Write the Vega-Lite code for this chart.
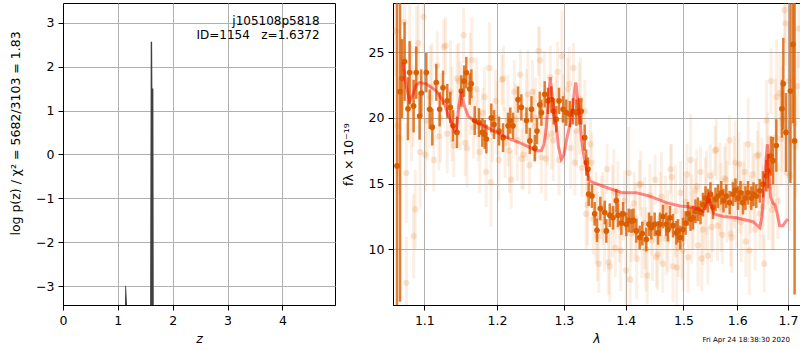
{
"$schema": "https://vega.github.io/schema/vega-lite/v6.json",
"padding": {"left": 8, "top": 2, "right": 0, "bottom": 0},
"spacing": 5,
"config": {
  "font": "DejaVu Sans",
  "view": {"stroke": "black", "strokeWidth": 1}
},
"datasets": {
  "pz": [
    {"z": 0, "logp": -20}, {"z": 1.128, "logp": -20}, {"z": 1.129, "logp": -3.5}, {"z": 1.135, "logp": -2.98}, {"z": 1.15, "logp": -3.0}, {"z": 1.175, "logp": -3.6}, {"z": 1.176, "logp": -20},
    {"z": 1.585, "logp": -20}, {"z": 1.588, "logp": -3.5}, {"z": 1.6, "logp": 2.57}, {"z": 1.625, "logp": 2.57}, {"z": 1.63, "logp": 1.5}, {"z": 1.648, "logp": 1.5}, {"z": 1.655, "logp": -3.5}, {"z": 1.656, "logp": -20}, {"z": 4.96, "logp": -20}
  ],
  "binned": [
    {"lam":1.0646,"flux":16.35,"err":13},{"lam":1.0685,"flux":22,"err":16},{"lam":1.0710,"flux":23.0,"err":3.0},{"lam":1.0743,"flux":24.3,"err":3.0},
    {"lam":1.0787,"flux":20.7,"err":2.4},{"lam":1.0808,"flux":23.45,"err":2.4},{"lam":1.0860,"flux":20.9,"err":2.0},{"lam":1.0894,"flux":23.45,"err":2.0},
    {"lam":1.0938,"flux":20.15,"err":1.8},{"lam":1.0960,"flux":21.9,"err":1.8},{"lam":1.1026,"flux":23.45,"err":1.5},{"lam":1.1071,"flux":20.66,"err":1.5},
    {"lam":1.1106,"flux":19.3,"err":1.4},{"lam":1.1159,"flux":22.7,"err":1.4},{"lam":1.1204,"flux":20.66,"err":1.3},{"lam":1.1249,"flux":22.3,"err":1.3},
    {"lam":1.1306,"flux":21.3,"err":1.3},{"lam":1.1347,"flux":20.8,"err":1.2},{"lam":1.1384,"flux":19.4,"err":1.2},{"lam":1.1439,"flux":18.9,"err":1.2},
    {"lam":1.1498,"flux":22.05,"err":1.2},{"lam":1.1536,"flux":22.8,"err":1.2},{"lam":1.1567,"flux":23.45,"err":1.2},{"lam":1.1614,"flux":22.2,"err":1.2},
    {"lam":1.1637,"flux":22.6,"err":1.1},{"lam":1.1684,"flux":19.8,"err":1.1},{"lam":1.1744,"flux":19.65,"err":1.1},{"lam":1.1791,"flux":18.9,"err":1.1},
    {"lam":1.1825,"flux":18.75,"err":1.1},{"lam":1.1848,"flux":18.4,"err":1.1},{"lam":1.1918,"flux":20.0,"err":1.1},{"lam":1.1957,"flux":19.5,"err":1.1},
    {"lam":1.2029,"flux":19.0,"err":1.1},{"lam":1.2087,"flux":18.5,"err":1.1},{"lam":1.2159,"flux":19.4,"err":1.0},{"lam":1.2193,"flux":19.8,"err":1.0},
    {"lam":1.2232,"flux":19.4,"err":1.0},{"lam":1.2306,"flux":21.4,"err":1.0},{"lam":1.2355,"flux":20.8,"err":1.0},{"lam":1.2431,"flux":19.8,"err":1.0},
    {"lam":1.2481,"flux":18.25,"err":1.0},{"lam":1.2505,"flux":20.66,"err":1.0},{"lam":1.2556,"flux":17.7,"err":1.0},{"lam":1.2589,"flux":19.0,"err":1.0},
    {"lam":1.2630,"flux":21.0,"err":1.0},{"lam":1.2655,"flux":20.4,"err":1.0},{"lam":1.2705,"flux":21.8,"err":1.0},{"lam":1.2755,"flux":21.3,"err":1.0},
    {"lam":1.2806,"flux":21.4,"err":1.0},{"lam":1.2843,"flux":20.5,"err":1.0},{"lam":1.2883,"flux":19.9,"err":1.0},{"lam":1.2925,"flux":21.3,"err":1.0},
    {"lam":1.2987,"flux":20.66,"err":1.0},{"lam":1.3038,"flux":20.4,"err":1.0},{"lam":1.3092,"flux":20.3,"err":1.0},{"lam":1.3143,"flux":20.5,"err":1.0},
    {"lam":1.3195,"flux":20.4,"err":1.0},{"lam":1.3238,"flux":20.5,"err":1.0},{"lam":1.3274,"flux":20.5,"err":1.0},{"lam":1.3328,"flux":18.5,"err":1.0},
    {"lam":1.3354,"flux":16.6,"err":1.0},{"lam":1.3381,"flux":16.1,"err":0.9},{"lam":1.3392,"flux":14.2,"err":0.9},{"lam":1.3445,"flux":14.05,"err":0.9},
    {"lam":1.3488,"flux":12.7,"err":0.9},{"lam":1.3526,"flux":11.45,"err":0.9},{"lam":1.3580,"flux":13.1,"err":0.9},{"lam":1.3652,"flux":12.8,"err":0.9},
    {"lam":1.3678,"flux":11.4,"err":0.9},{"lam":1.3734,"flux":12.6,"err":0.9},{"lam":1.3788,"flux":12.4,"err":0.9},{"lam":1.3843,"flux":13.7,"err":0.9},
    {"lam":1.3870,"flux":12.6,"err":0.9},{"lam":1.3926,"flux":12.0,"err":0.9},{"lam":1.3954,"flux":12.7,"err":0.9},{"lam":1.4009,"flux":11.9,"err":0.9},
    {"lam":1.4050,"flux":12.2,"err":0.9},{"lam":1.4094,"flux":12.15,"err":0.9},{"lam":1.4130,"flux":12.2,"err":0.9},{"lam":1.4178,"flux":11.4,"err":0.9},
    {"lam":1.4235,"flux":10.9,"err":0.9},{"lam":1.4280,"flux":11.2,"err":0.9},{"lam":1.4348,"flux":10.75,"err":0.9},{"lam":1.4395,"flux":11.9,"err":0.9},
    {"lam":1.4434,"flux":11.65,"err":0.9},{"lam":1.4493,"flux":11.9,"err":0.9},{"lam":1.4551,"flux":11.25,"err":0.9},{"lam":1.4586,"flux":11.9,"err":0.9},
    {"lam":1.4638,"flux":12.5,"err":0.9},{"lam":1.4696,"flux":11.9,"err":0.9},{"lam":1.4726,"flux":11.5,"err":0.9},{"lam":1.4761,"flux":12.4,"err":0.9},
    {"lam":1.4814,"flux":11.8,"err":0.9},{"lam":1.4873,"flux":11.25,"err":0.9},{"lam":1.4903,"flux":11.4,"err":0.9},{"lam":1.4944,"flux":10.9,"err":0.9},
    {"lam":1.4993,"flux":11.5,"err":0.9},{"lam":1.5040,"flux":12.0,"err":0.9},{"lam":1.5083,"flux":12.7,"err":0.9},{"lam":1.5128,"flux":12.3,"err":0.9},
    {"lam":1.5173,"flux":12.4,"err":0.9},{"lam":1.5219,"flux":12.9,"err":0.9},{"lam":1.5264,"flux":13.05,"err":0.9},{"lam":1.5310,"flux":12.8,"err":0.9},
    {"lam":1.5356,"flux":13.4,"err":0.9},{"lam":1.5402,"flux":13.9,"err":0.9},{"lam":1.5448,"flux":13.7,"err":0.9},{"lam":1.5494,"flux":14.2,"err":0.9},
    {"lam":1.5541,"flux":13.2,"err":0.9},{"lam":1.5587,"flux":13.8,"err":0.9},{"lam":1.5634,"flux":14.05,"err":0.9},{"lam":1.5696,"flux":14.3,"err":0.9},
    {"lam":1.5737,"flux":13.7,"err":0.9},{"lam":1.5790,"flux":14.05,"err":0.9},{"lam":1.5854,"flux":13.55,"err":0.9},{"lam":1.5917,"flux":14.2,"err":0.9},
    {"lam":1.5965,"flux":14.5,"err":0.9},{"lam":1.6013,"flux":13.9,"err":0.9},{"lam":1.6061,"flux":14.3,"err":0.9},{"lam":1.6109,"flux":13.55,"err":0.9},
    {"lam":1.6157,"flux":13.9,"err":0.9},{"lam":1.6206,"flux":14.3,"err":0.9},{"lam":1.6270,"flux":13.9,"err":0.9},{"lam":1.6313,"flux":14.2,"err":0.9},
    {"lam":1.6368,"flux":14.05,"err":0.9},{"lam":1.6435,"flux":14.45,"err":0.9},{"lam":1.6499,"flux":14.95,"err":1.0},{"lam":1.6565,"flux":15.6,"err":1.2},
    {"lam":1.6598,"flux":15.96,"err":1.3},{"lam":1.6658,"flux":17.1,"err":1.5},{"lam":1.6698,"flux":16.75,"err":1.8},{"lam":1.6765,"flux":17.9,"err":2.0},
    {"lam":1.6878,"flux":20.7,"err":2.2},{"lam":1.6906,"flux":22.6,"err":3.5},{"lam":1.6960,"flux":18.9,"err":3.0},{"lam":1.7050,"flux":22.05,"err":7},
    {"lam":1.7103,"flux":25.6,"err":6},{"lam":1.7136,"flux":18.25,"err":11.7}
  ],
  "faded": [
    {"lam":1.063,"flux":26.6,"err":3.4},{"lam":1.0675,"flux":18.5,"err":4.3},{"lam":1.072,"flux":23.5,"err":2.7},{"lam":1.0765,"flux":15.8,"err":3.8},
    {"lam":1.081,"flux":29.3,"err":4.9},{"lam":1.0855,"flux":20.9,"err":3.1},{"lam":1.09,"flux":25.1,"err":3.4},{"lam":1.0945,"flux":17.4,"err":4.3},
    {"lam":1.099,"flux":27.7,"err":2.7},{"lam":1.0766,"flux":7.45,"err":3.5},{"lam":1.086,"flux":11.0,"err":3.2},{"lam":1.088,"flux":13.05,"err":3.0},
    {"lam":1.1035,"flux":19.8,"err":3.0},{"lam":1.108,"flux":21.6,"err":3.9},{"lam":1.1125,"flux":16.8,"err":2.4},{"lam":1.117,"flux":24.0,"err":2.6},
    {"lam":1.1215,"flux":20.0,"err":3.4},{"lam":1.126,"flux":25.4,"err":2.1},{"lam":1.1305,"flux":18.8,"err":3.0},{"lam":1.135,"flux":22.0,"err":3.9},
    {"lam":1.1395,"flux":17.9,"err":2.4},{"lam":1.144,"flux":23.0,"err":2.6},{"lam":1.1485,"flux":20.9,"err":3.4},{"lam":1.153,"flux":26.3,"err":2.1},
    {"lam":1.1575,"flux":17.7,"err":3.0},{"lam":1.162,"flux":22.6,"err":3.9},{"lam":1.1665,"flux":19.3,"err":2.4},
    {"lam":1.171,"flux":22.2,"err":2.4},{"lam":1.1755,"flux":17.4,"err":3.1},{"lam":1.18,"flux":20.4,"err":1.9},{"lam":1.1845,"flux":15.9,"err":2.7},
    {"lam":1.189,"flux":23.8,"err":3.5},{"lam":1.1935,"flux":18.85,"err":2.2},{"lam":1.198,"flux":21.3,"err":2.4},{"lam":1.2025,"flux":16.8,"err":3.1},
    {"lam":1.207,"flux":22.9,"err":1.9},{"lam":1.2115,"flux":18.1,"err":2.7},{"lam":1.216,"flux":19.8,"err":3.5},{"lam":1.2205,"flux":15.3,"err":2.2},
    {"lam":1.225,"flux":22.0,"err":2.4},{"lam":1.2295,"flux":18.3,"err":3.1},{"lam":1.234,"flux":23.3,"err":1.9},{"lam":1.2385,"flux":17.2,"err":2.7},
    {"lam":1.243,"flux":20.2,"err":3.5},{"lam":1.2475,"flux":16.4,"err":2.2},{"lam":1.252,"flux":22.0,"err":2.4},{"lam":1.2565,"flux":20.0,"err":3.1},
    {"lam":1.261,"flux":25.1,"err":1.9},{"lam":1.2655,"flux":17.0,"err":2.7},{"lam":1.27,"flux":21.6,"err":3.5},{"lam":1.2745,"flux":18.6,"err":2.2},
    {"lam":1.279,"flux":23.1,"err":2.4},{"lam":1.2835,"flux":18.3,"err":3.1},{"lam":1.288,"flux":21.3,"err":1.9},{"lam":1.2925,"flux":16.8,"err":2.7},
    {"lam":1.297,"flux":24.7,"err":3.5},{"lam":1.3015,"flux":19.75,"err":2.2},{"lam":1.306,"flux":22.2,"err":2.4},{"lam":1.3105,"flux":17.7,"err":3.1},
    {"lam":1.315,"flux":23.8,"err":1.9},{"lam":1.3195,"flux":19.0,"err":2.7},{"lam":1.324,"flux":20.7,"err":3.5},{"lam":1.3285,"flux":16.2,"err":2.2},
    {"lam":1.333,"flux":20.5,"err":2.4},{"lam":1.3375,"flux":13.4,"err":3.1},{"lam":1.342,"flux":18.0,"err":1.9},{"lam":1.3465,"flux":12.3,"err":2.7},
    {"lam":1.351,"flux":12.4,"err":3.5},{"lam":1.3555,"flux":8.9,"err":2.2},{"lam":1.36,"flux":13.2,"err":2.4},{"lam":1.3645,"flux":11.4,"err":3.1},
    {"lam":1.369,"flux":16.1,"err":1.9},{"lam":1.3735,"flux":8.7,"err":2.7},{"lam":1.378,"flux":12.9,"err":3.5},{"lam":1.3825,"flux":10.1,"err":2.2},
    {"lam":1.387,"flux":14.3,"err":2.4},{"lam":1.3915,"flux":9.9,"err":3.1},{"lam":1.396,"flux":12.6,"err":1.9},{"lam":1.4005,"flux":8.4,"err":2.7},
    {"lam":1.405,"flux":15.8,"err":3.5},{"lam":1.4095,"flux":11.2,"err":2.2},{"lam":1.414,"flux":13.5,"err":2.4},{"lam":1.4185,"flux":9.3,"err":3.1},
    {"lam":1.423,"flux":14.9,"err":1.9},{"lam":1.4275,"flux":10.5,"err":2.7},{"lam":1.432,"flux":12.0,"err":3.5},{"lam":1.4365,"flux":8.0,"err":2.2},
    {"lam":1.441,"flux":14.1,"err":2.4},{"lam":1.4455,"flux":10.7,"err":3.1},{"lam":1.45,"flux":15.3,"err":1.9},{"lam":1.4545,"flux":9.6,"err":2.7},
    {"lam":1.459,"flux":12.4,"err":3.5},{"lam":1.4635,"flux":8.9,"err":2.2},{"lam":1.468,"flux":13.2,"err":2.4},{"lam":1.4725,"flux":11.4,"err":3.1},
    {"lam":1.477,"flux":16.1,"err":1.9},{"lam":1.4815,"flux":8.7,"err":2.7},{"lam":1.486,"flux":12.9,"err":3.5},{"lam":1.4905,"flux":10.1,"err":2.2},
    {"lam":1.495,"flux":14.3,"err":2.4},{"lam":1.4995,"flux":9.9,"err":3.1},{"lam":1.504,"flux":13.6,"err":1.9},{"lam":1.5085,"flux":9.4,"err":2.7},
    {"lam":1.513,"flux":16.8,"err":3.5},{"lam":1.5175,"flux":12.2,"err":2.2},{"lam":1.522,"flux":14.5,"err":2.4},{"lam":1.5265,"flux":10.3,"err":3.1},
    {"lam":1.531,"flux":15.9,"err":1.9},{"lam":1.5355,"flux":11.5,"err":2.7},{"lam":1.54,"flux":13.5,"err":3.5},{"lam":1.5445,"flux":9.5,"err":2.2},
    {"lam":1.549,"flux":15.6,"err":2.4},{"lam":1.5535,"flux":12.9,"err":3.1},{"lam":1.558,"flux":17.5,"err":1.9},{"lam":1.5625,"flux":11.8,"err":2.7},
    {"lam":1.567,"flux":14.6,"err":3.5},{"lam":1.5715,"flux":11.1,"err":2.2},{"lam":1.576,"flux":15.4,"err":2.4},{"lam":1.5805,"flux":13.6,"err":3.1},
    {"lam":1.585,"flux":18.3,"err":1.9},{"lam":1.5895,"flux":10.9,"err":2.7},{"lam":1.594,"flux":15.1,"err":3.5},{"lam":1.5985,"flux":12.3,"err":2.2},
    {"lam":1.603,"flux":16.5,"err":2.4},{"lam":1.6075,"flux":12.1,"err":3.1},{"lam":1.612,"flux":14.8,"err":1.9},{"lam":1.6165,"flux":10.6,"err":2.7},
    {"lam":1.621,"flux":18.0,"err":3.5},{"lam":1.6255,"flux":13.4,"err":2.2},{"lam":1.63,"flux":15.7,"err":2.4},{"lam":1.6345,"flux":11.5,"err":3.1},
    {"lam":1.639,"flux":17.1,"err":1.9},{"lam":1.6435,"flux":12.7,"err":2.7},{"lam":1.648,"flux":15.0,"err":3.5},{"lam":1.6525,"flux":8.9,"err":2.2},
    {"lam":1.657,"flux":19.8,"err":3.1},{"lam":1.6615,"flux":14.7,"err":4.0},{"lam":1.666,"flux":22.8,"err":2.5},{"lam":1.6705,"flux":13.4,"err":3.5},
    {"lam":1.675,"flux":18.5,"err":4.5},{"lam":1.6795,"flux":13.7,"err":2.9},{"lam":1.684,"flux":21.9,"err":3.1},{"lam":1.6885,"flux":19.9,"err":4.0},
    {"lam":1.693,"flux":28.2,"err":2.5},{"lam":1.6975,"flux":15.8,"err":3.5},{"lam":1.702,"flux":22.8,"err":4.5},{"lam":1.7065,"flux":18.2,"err":2.9},
    {"lam":1.711,"flux":25.2,"err":3.1},{"lam":1.7155,"flux":17.8,"err":4.0},{"lam":1.72,"flux":22.4,"err":2.5},
    {"lam":1.0652,"flux":19.4,"err":3.8},{"lam":1.0742,"flux":27.3,"err":3.0},{"lam":1.0832,"flux":21.1,"err":4.4},{"lam":1.0922,"flux":25.7,"err":3.3},
    {"lam":1.1012,"flux":17.2,"err":2.8},{"lam":1.1102,"flux":22.4,"err":3.3},{"lam":1.1192,"flux":18.6,"err":2.6},{"lam":1.1282,"flux":25.5,"err":2.2},
    {"lam":1.1372,"flux":20.3,"err":3.6},{"lam":1.1462,"flux":22.8,"err":2.9},{"lam":1.1552,"flux":18.1,"err":2.5},{"lam":1.1642,"flux":24.4,"err":3.2},
    {"lam":1.1732,"flux":19.4,"err":2.7},{"lam":1.1822,"flux":21.6,"err":2.3},{"lam":1.1912,"flux":15.1,"err":3.4},{"lam":1.2002,"flux":20.0,"err":2.8},
    {"lam":1.2092,"flux":23.0,"err":2.5},{"lam":1.2182,"flux":17.5,"err":3.2},{"lam":1.2272,"flux":19.9,"err":2.7},{"lam":1.2362,"flux":16.9,"err":2.3},
    {"lam":1.2452,"flux":21.8,"err":3.4},{"lam":1.2542,"flux":19.4,"err":2.8},{"lam":1.2632,"flux":24.4,"err":2.5},{"lam":1.2722,"flux":16.9,"err":3.2},
    {"lam":1.2812,"flux":18.8,"err":2.7},{"lam":1.2902,"flux":23.5,"err":2.3},{"lam":1.2992,"flux":19.9,"err":3.4},{"lam":1.3082,"flux":22.6,"err":2.8},
    {"lam":1.3172,"flux":16.6,"err":2.5},{"lam":1.3262,"flux":21.4,"err":3.2},{"lam":1.3352,"flux":12.7,"err":2.7},{"lam":1.3442,"flux":16.6,"err":2.3},
    {"lam":1.3532,"flux":11.0,"err":3.4},{"lam":1.3622,"flux":13.1,"err":2.8},{"lam":1.3712,"flux":9.0,"err":2.5},{"lam":1.3802,"flux":14.4,"err":3.2},
    {"lam":1.3892,"flux":11.7,"err":2.7},{"lam":1.3982,"flux":13.7,"err":2.3},{"lam":1.4072,"flux":7.7,"err":3.4},{"lam":1.4162,"flux":12.3,"err":2.8},
    {"lam":1.4252,"flux":15.0,"err":2.5},{"lam":1.4342,"flux":10.0,"err":3.2},{"lam":1.4432,"flux":12.2,"err":2.7},{"lam":1.4522,"flux":9.4,"err":2.3},
    {"lam":1.4612,"flux":14.0,"err":3.4},{"lam":1.4702,"flux":10.8,"err":2.8},{"lam":1.4792,"flux":15.5,"err":2.5},{"lam":1.4882,"flux":8.6,"err":3.2},
    {"lam":1.4972,"flux":10.4,"err":2.7},{"lam":1.5062,"flux":15.7,"err":2.3},{"lam":1.5152,"flux":12.3,"err":3.4},{"lam":1.5242,"flux":14.8,"err":2.8},
    {"lam":1.5332,"flux":9.3,"err":2.5},{"lam":1.5422,"flux":14.3,"err":3.2},{"lam":1.5512,"flux":11.7,"err":2.7},{"lam":1.5602,"flux":17.6,"err":2.3},
    {"lam":1.5692,"flux":13.2,"err":3.4},{"lam":1.5782,"flux":15.3,"err":2.8},{"lam":1.5872,"flux":11.2,"err":2.5},{"lam":1.5962,"flux":16.6,"err":3.2},
    {"lam":1.6052,"flux":13.9,"err":2.7},{"lam":1.6142,"flux":15.9,"err":2.3},{"lam":1.6232,"flux":9.9,"err":3.4},{"lam":1.6322,"flux":14.5,"err":2.8},
    {"lam":1.6412,"flux":17.2,"err":2.5},{"lam":1.6502,"flux":13.2,"err":3.2},{"lam":1.6592,"flux":16.9,"err":3.5},{"lam":1.6682,"flux":13.0,"err":3.0},
    {"lam":1.6772,"flux":21.6,"err":4.4},{"lam":1.6862,"flux":18.4,"err":3.6},{"lam":1.6952,"flux":27.2,"err":3.2},{"lam":1.7042,"flux":15.6,"err":4.2},
    {"lam":1.7132,"flux":19.6,"err":3.5},{"lam":1.7222,"flux":26.8,"err":3.0}
  ],
  "model": [
    {"lam":1.0723,"flux":24.2},{"lam":1.0762,"flux":22.5},{"lam":1.0808,"flux":21.3},{"lam":1.0852,"flux":21.8},{"lam":1.0890,"flux":22.5},
    {"lam":1.0938,"flux":22.7},{"lam":1.1026,"flux":22.6},{"lam":1.1159,"flux":22.05},{"lam":1.1249,"flux":21.3},{"lam":1.1316,"flux":20.3},
    {"lam":1.1407,"flux":19.0},{"lam":1.1432,"flux":19.2},{"lam":1.1466,"flux":21.0},{"lam":1.1498,"flux":22.05},{"lam":1.1536,"flux":21.0},
    {"lam":1.1591,"flux":20.15},{"lam":1.1706,"flux":19.65},{"lam":1.1848,"flux":19.3},{"lam":1.1993,"flux":18.9},{"lam":1.2183,"flux":18.4},
    {"lam":1.2379,"flux":18.0},{"lam":1.2579,"flux":17.5},{"lam":1.2655,"flux":17.5},{"lam":1.2695,"flux":18.0},{"lam":1.2730,"flux":19.3},
    {"lam":1.2763,"flux":21.5},{"lam":1.2790,"flux":23.1},{"lam":1.2824,"flux":21.5},{"lam":1.2846,"flux":20.2},{"lam":1.2883,"flux":19.3},
    {"lam":1.2917,"flux":17.8},{"lam":1.2960,"flux":16.85},{"lam":1.3002,"flux":17.2},{"lam":1.3038,"flux":18.25},{"lam":1.3081,"flux":19.2},
    {"lam":1.3117,"flux":19.8},{"lam":1.3151,"flux":21.5},{"lam":1.3187,"flux":22.7},{"lam":1.3215,"flux":21.5},{"lam":1.3249,"flux":20.0},
    {"lam":1.3278,"flux":18.5},{"lam":1.3301,"flux":17.5},{"lam":1.3354,"flux":16.2},{"lam":1.3408,"flux":15.2},{"lam":1.3461,"flux":15.1},
    {"lam":1.3624,"flux":14.8},{"lam":1.3843,"flux":14.45},{"lam":1.3954,"flux":14.3},{"lam":1.4178,"flux":14.3},{"lam":1.4406,"flux":14.05},
    {"lam":1.4696,"flux":13.55},{"lam":1.4937,"flux":13.3},{"lam":1.5173,"flux":13.2},{"lam":1.5356,"flux":12.9},{"lam":1.5411,"flux":13.3},
    {"lam":1.5457,"flux":14.0},{"lam":1.5504,"flux":13.4},{"lam":1.5559,"flux":12.7},{"lam":1.5728,"flux":12.5},{"lam":1.5981,"flux":12.4},
    {"lam":1.6303,"flux":12.1},{"lam":1.6435,"flux":11.65},{"lam":1.6479,"flux":12.5},{"lam":1.6519,"flux":14.5},{"lam":1.6559,"flux":16.8},
    {"lam":1.6588,"flux":18.0},{"lam":1.6618,"flux":16.0},{"lam":1.6648,"flux":14.0},{"lam":1.6698,"flux":13.5},{"lam":1.6738,"flux":13.4},
    {"lam":1.6778,"flux":12.8},{"lam":1.6832,"flux":11.8},{"lam":1.6899,"flux":11.8},{"lam":1.6950,"flux":12.1},{"lam":1.7001,"flux":12.3}
  ]
},
"hconcat": [
  {
    "width": 272,
    "height": 302,
    "layer": [
      {"data": {"name": "pz"}, "mark": {"type": "area", "color": "#404040", "clip": true},
       "encoding": {
        "x": {"field": "z", "type": "quantitative", "title": "z", "scale": {"domain": [0, 4.96], "nice": false, "zero": false}, "axis": {"values": [0, 1, 2, 3, 4], "format": "d", "title": "z", "titleFontStyle": "italic", "titlePadding": 6, "labelFontSize": 12.5, "titleFontSize": 12.5, "titleFontWeight": "normal", "labelColor": "black", "titleColor": "black", "domainColor": "black", "tickColor": "black", "tickSize": 5, "labelPadding": 4, "gridColor": "#b0b0b0", "gridOpacity": 1, "labelFlush": false, "labelOverlap": false}},
        "y": {"field": "logp", "type": "quantitative", "title": "log p(z) / χ² = 5682/3103 = 1.83", "scale": {"domain": [-3.43, 3.45], "nice": false, "zero": false}, "axis": {"values": [-3, -2, -1, 0, 1, 2, 3], "format": "d", "title": "log p(z) / χ² = 5682/3103 = 1.83", "minExtent": 29, "maxExtent": 29, "titlePadding": 12, "titleY": 130, "labelFontSize": 12.5, "titleFontSize": 12.5, "titleFontWeight": "normal", "labelColor": "black", "titleColor": "black", "domainColor": "black", "tickColor": "black", "tickSize": 5, "labelPadding": 4, "gridColor": "#b0b0b0", "gridOpacity": 1, "labelFlush": false, "labelOverlap": false}},
        "y2": {"datum": -20}}},
      {"data": {"values": [{}]}, "mark": {"type": "text", "text": "j105108p5818", "align": "right", "baseline": "middle", "fontSize": 12, "color": "black"}, "encoding": {"x": {"datum": 4.68, "type": "quantitative"}, "y": {"datum": 3.04, "type": "quantitative"}}},
      {"data": {"values": [{}]}, "mark": {"type": "text", "text": "ID=1154\u00a0\u00a0\u00a0z=1.6372", "align": "right", "baseline": "middle", "fontSize": 12, "color": "black"}, "encoding": {"x": {"datum": 4.68, "type": "quantitative"}, "y": {"datum": 2.72, "type": "quantitative"}}}
    ]
  },
  {
    "width": 407,
    "height": 302,
    "layer": [
      {"data": {"name": "faded"}, "mark": {"type": "errorbar", "color": "#e8822e", "opacity": 0.13, "thickness": 3, "clip": true},
       "encoding": {
        "x": {"field": "lam", "type": "quantitative", "title": "λ", "scale": {"type": "log", "domain": [1.0595, 1.7247], "nice": false, "zero": false}, "axis": {"values": [1.1, 1.2, 1.3, 1.4, 1.5, 1.6, 1.7], "format": ".1f", "title": "λ", "titleFontStyle": "italic", "titlePadding": 6, "labelFontSize": 12.5, "titleFontSize": 12.5, "titleFontWeight": "normal", "labelColor": "black", "titleColor": "black", "domainColor": "black", "tickColor": "black", "tickSize": 5, "labelPadding": 4, "gridColor": "#b0b0b0", "gridOpacity": 1, "labelFlush": false, "labelOverlap": false}},
        "y": {"field": "flux", "type": "quantitative", "title": "fλ × 10⁻¹⁹", "scale": {"domain": [5.76, 28.75], "nice": false, "zero": false}, "axis": {"values": [10, 15, 20, 25], "format": "d", "title": "fλ × 10⁻¹⁹", "minExtent": 26, "maxExtent": 26, "titlePadding": 12, "labelFontSize": 12.5, "titleFontSize": 12.5, "titleFontWeight": "normal", "labelColor": "black", "titleColor": "black", "domainColor": "black", "tickColor": "black", "tickSize": 5, "labelPadding": 4, "gridColor": "#b0b0b0", "gridOpacity": 1, "labelFlush": false, "labelOverlap": false}},
        "yError": {"field": "err"}}},
      {"data": {"name": "faded"}, "mark": {"type": "circle", "color": "#e8822e", "opacity": 0.2, "size": 40, "clip": true},
       "encoding": {"x": {"field": "lam", "type": "quantitative", "title": "λ"}, "y": {"field": "flux", "type": "quantitative", "title": "fλ × 10⁻¹⁹"}}},
      {"data": {"name": "binned"}, "mark": {"type": "errorbar", "color": "#d95f02", "opacity": 0.8, "thickness": 2.5, "clip": true},
       "encoding": {"x": {"field": "lam", "type": "quantitative", "title": "λ"}, "y": {"field": "flux", "type": "quantitative", "title": "fλ × 10⁻¹⁹"}, "yError": {"field": "err"}}},
      {"data": {"name": "binned"}, "mark": {"type": "circle", "color": "#d95f02", "opacity": 1, "size": 32, "clip": true},
       "encoding": {"x": {"field": "lam", "type": "quantitative", "title": "λ"}, "y": {"field": "flux", "type": "quantitative", "title": "fλ × 10⁻¹⁹"}}},
      {"data": {"name": "model"}, "mark": {"type": "line", "color": "#ff0000", "opacity": 0.45, "strokeWidth": 3, "clip": true},
       "encoding": {"x": {"field": "lam", "type": "quantitative", "title": "λ"}, "y": {"field": "flux", "type": "quantitative", "title": "fλ × 10⁻¹⁹"}}},
      {"data": {"values": [{}]}, "mark": {"type": "text", "text": "Fri Apr 24 18:38:30 2020", "align": "right", "baseline": "middle", "fontSize": 7, "color": "black"}, "encoding": {"x": {"datum": 1.704, "type": "quantitative"}, "y": {"datum": 3.09, "type": "quantitative"}}}
    ]
  }
]
}
